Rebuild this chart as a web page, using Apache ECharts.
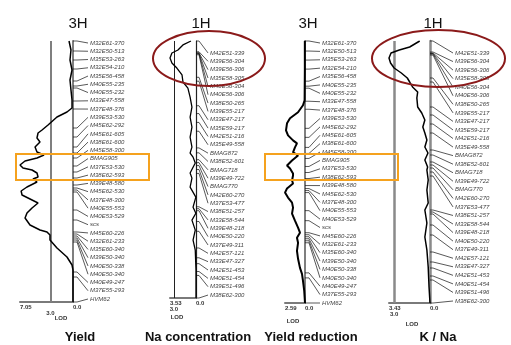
<!DOCTYPE html>
<html>
<head>
<meta charset="utf-8">
<script src="https://cdn.jsdelivr.net/npm/echarts@6/dist/echarts.min.js"></script>
<style>
  html, body { margin: 0; padding: 0; background: #fff; }
  #chart { width: 511px; height: 345px; }
</style>
</head>
<body>
<div id="chart"></div>
<script>
// marker names and map positions (cM)
const markers3H = ['M32E61-370', 'M32E50-513', 'M35E53-263', 'M32E54-210', 'M35E56-458', 'M40E55-235', 'M40E55-232',
  'M33E47-558', 'M37E48-376', 'M39E53-530', 'M45E62-292', 'M45E61-605', 'M38E61-600', 'M45E58-300', 'BMAG905',
  'M37E53-530', 'M38E62-593', 'M39E48-580', 'M45E62-530', 'M37E48-300', 'M40E55-553', 'M40E53-529', 'scs',
  'M45E60-226', 'M32E61-233', 'M35E60-340', 'M39E50-340', 'M40E50-338', 'M40E50-340', 'M40E49-247', 'M37E55-293', 'HVM62']
const pos3H = [0, 5, 9.5, 14, 20, 22.5, 23.5, 30, 34, 43.5, 48, 53, 56, 58.5, 62.5, 65.5, 68.5, 72, 73.5, 74.5, 75.5,
  84.5, 89.5, 95.5, 96.5, 97.5, 98.5, 99.5, 100.5, 115.5, 118, 130.5]

const markers1H = ['M42E51-339', 'M39E56-304', 'M39E56-306', 'M35E58-305', 'M40E56-304', 'M40E56-306', 'M38E50-265',
  'M39E55-217', 'M33E47-217', 'M35E59-217', 'M42E51-216', 'M35E49-558', 'BMAG872', 'M38E52-601', 'BMAG718',
  'M39E49-722', 'BMAG770', 'M42E60-270', 'M37E53-477', 'M38E51-257', 'M33E58-544', 'M39E48-218', 'M40E50-220',
  'M37E49-311', 'M42E57-121', 'M33E47-327', 'M42E51-453', 'M40E51-454', 'M39E51-496', 'M38E62-300']
const pos1H = [0, 5.5, 6, 6.25, 6.5, 7, 18.5, 20.5, 33, 37, 41.5, 46, 54.5, 57, 60.5, 62, 63.5, 65.5, 67.5,
  84.5, 85.5, 86.5, 92, 97, 105.5, 110.5, 113.5, 117.5, 119.5, 131]

const len3H = 130.5
const len1H = 131

// LOD profiles: position (cM) and LOD
const yieldCM = [0, 4.5, 9.5, 14.5, 19.5, 24.5, 29.5, 33.5, 35.5, 38, 42, 44.5, 46, 48.5, 50.5, 53, 55.5, 57, 58.5, 60,
  62, 63.5, 64.5, 66, 68, 69, 70.5, 73, 75, 77, 78.5, 81, 83.5, 86, 88.5, 92, 94.5, 95.5, 97, 99.5, 103.5, 108, 112, 114.5, 130.5]
const yieldLOD = [0.53, 0.27, 0.4, 0.13, 0.4, 0.27, 0.13, 0.13, 0.8, 2.13, 3.32, 4.12, 4.65, 4.79, 4.39, 5.05, 4.79, 3.86,
  4.79, 6.38, 7.05, 6.65, 5.45, 4.79, 4.65, 5.32, 4.79, 6.12, 6.9, 6.78, 5.98, 4.65, 5.45, 6.12, 6.38, 5.72, 4.39, 3.46,
  3.06, 3.06, 2.13, 0.8, 0.13, 0, 0]

const naCM = [0, 2, 4.6, 6.1, 8.7, 11.2, 13.8, 17.3, 20.9, 24, 28.6, 33.7, 38.8, 43.9, 49, 54.1, 57.1, 59.2, 62.2, 67.3,
  69.9, 74.5, 79.6, 84.7, 87.8, 91.3, 96.4, 101.5, 106.6, 116.8, 131]
const naLOD = [0.68, 1.77, 2.45, 3.27, 3.53, 3.27, 2.6, 1.9, 1.77, 1.1, 0.8, 0.55, 0.8, 0.55, 0.8, 0.55, 0.8, 0.4, 0.1,
  0.8, 0.55, 0.8, 0.02, 0.4, 0.02, 0.55, 0.1, 0.4, 0.1, 0, 0]

const redCM = [0, 14.5, 29.5, 32, 35.5, 38.5, 41, 44.5, 47, 49.5, 51, 53, 55.5, 57, 59.5, 62, 63.5, 66, 67, 69.5, 71,
  73.5, 75.5, 78, 80.5, 83, 86, 89.5, 93, 95.5, 98, 100.5, 104.5, 108.5, 113, 116, 119.5, 124.5, 130.5]
const redLOD = [0.02, 0.02, 0.05, 0.26, 0.9, 1.94, 2.33, 2.46, 2.2, 1.55, 1.04, 1.3, 1.55, 0.9, 1.68, 2.33, 1.94, 1.55,
  1.55, 1.68, 1.55, 2.33, 2.59, 2.2, 1.68, 1.55, 1.68, 1.3, 0.9, 0.65, 1.04, 0.9, 1.04, 0.9, 0.65, 0.39, 0.26, 0.1, 0]

const knaCM = [0, 3, 4.5, 6, 8.5, 11, 13.5, 16, 18.5, 20.5, 23, 25.5, 28.5, 33, 36, 39.5, 43, 46, 49.5, 53, 56, 59.5,
  63, 64.5, 69.5, 74.5, 81, 84.5, 91, 98, 104.5, 113, 123, 131]
const knaLOD = [0.86, 1.7, 2.57, 3.26, 3.43, 3.3, 3.0, 2.4, 1.9, 1.7, 1.46, 1.03, 1.1, 1.03, 0.69, 0.43, 0.6, 0.43, 0.26,
  0.43, 0.17, 0.43, 0.2, 0.26, 0.15, 0.26, 0.15, 0.43, 0.26, 0.43, 0.26, 0.15, 0.08, 0]

const chromNames = ['3H', '1H', '3H', '1H']
const traitNames = ['Yield', 'Na concentration', 'Yield reduction', 'K / Na']
const lodMax = [7.05, 3.53, 2.59, 3.43]
const threshold = 3.0

// layout of each panel (pixels), label span along the chromosome (cM)
const panels = [
  { grid: [20, 41, 53, 261], len: len3H, names: markers3H, pos: pos3H, cm: yieldCM, lod: yieldLOD,
    lab: [1, 129], gap: 17, tick: 4, chrom: ['#7f7f7f', 2], thr: ['#7f7f7f', 2], curve: 1.5, lodText: [61, 318], title: [73, 75] },
  { grid: [170, 41, 26, 257], len: len1H, names: markers1H, pos: pos1H, cm: naCM, lod: naLOD,
    lab: [6.1, 129.5], gap: 14, tick: 3, chrom: ['#222', 1.2], thr: ['#222', 1], curve: 1.3, lodText: [177, 317], title: [196, 193] },
  { grid: [285, 41, 20, 262], len: len3H, names: markers3H, pos: pos3H, cm: redCM, lod: redLOD,
    lab: [1, 130.5], gap: 17, tick: 4, chrom: ['#7f7f7f', 2], thr: null, curve: 2, lodText: [293, 321], title: [303, 306] },
  { grid: [389, 41, 41, 262], len: len1H, names: markers1H, pos: pos1H, cm: knaCM, lod: knaLOD,
    lab: [6, 130], gap: 25, tick: 3, chrom: ['#8a8a8a', 2.5], thr: ['#8a8a8a', 2.5], curve: 1.5, lodText: [412, 324], title: [428, 433] },
]

const FONT = 'Liberation Sans, Arial, sans-serif'
const fmt = v => (v === 0 || v === 3 ? v.toFixed(1) : String(v))

const grids = []
const xAxes = []
const yAxes = []
const series = []
const titles = []
const graphics = []

panels.forEach((p, i) => {
  grids.push({ left: p.grid[0], top: p.grid[1], width: p.grid[2], height: p.grid[3], outerBoundsMode: 'none' })

  // LOD axis (0 at the chromosome, growing to the left)
  xAxes.push({
    gridIndex: i, type: 'value', min: 0, max: lodMax[i], inverse: true,
    axisLine: { onZero: false, lineStyle: { color: '#7a7a7a', width: 2 } },
    axisTick: { show: false }, splitLine: { show: false },
    axisLabel: { customValues: [lodMax[i], 0], formatter: fmt, align: 'left', margin: 2,
      fontSize: 6, fontWeight: 'bold', color: '#333', fontFamily: FONT },
  })
  // second row with the threshold value
  xAxes.push({
    gridIndex: i, type: 'value', min: 0, max: lodMax[i], inverse: true, position: 'bottom', offset: 8,
    axisLine: { show: false }, axisTick: { show: false }, splitLine: { show: false },
    axisLabel: { show: lodMax[i] >= threshold, customValues: [threshold], formatter: fmt, margin: 0,
      fontSize: 6, fontWeight: 'bold', color: '#333', fontFamily: FONT },
  })
  // chromosome
  yAxes.push({
    gridIndex: i, type: 'value', min: 0, max: p.len, inverse: true, position: 'right',
    axisLine: { show: true, onZero: false, lineStyle: { color: p.chrom[0], width: p.chrom[1] } },
    axisTick: { show: false }, axisLabel: { show: false }, splitLine: { show: false },
  })

  series.push({
    type: 'custom', xAxisIndex: i * 2, yAxisIndex: i, silent: true, clip: false,
    data: p.pos.map((c, k) => [0, c, p.lab[0] + k * (p.lab[1] - p.lab[0]) / (p.pos.length - 1)]),
    encode: { x: 0, y: 1 },
    renderItem: (params, api) => {
      const c = api.coord([0, api.value(1)])
      const l = api.coord([0, api.value(2)])
      const lx = c[0] + p.gap
      return {
        type: 'group',
        children: [
          { type: 'polyline', shape: { points: [[c[0], c[1]], [c[0] + p.tick, c[1]], [lx - 2, l[1]]] },
            style: { stroke: '#111', lineWidth: 0.7, fill: null } },
          { type: 'text', x: lx, y: l[1],
            style: { text: p.names[params.dataIndex], fontSize: 6, fontStyle: 'italic', fontFamily: FONT,
              fill: '#444', verticalAlign: 'middle', align: 'left' } },
        ],
      }
    },
  })

  series.push({
    type: 'line', xAxisIndex: i * 2, yAxisIndex: i, silent: true, symbol: 'none', z: 5,
    data: p.cm.map((c, k) => [p.lod[k], c]),
    lineStyle: { color: '#000', width: p.curve },
    markLine: p.thr ? {
      silent: true, symbol: 'none', label: { show: false },
      lineStyle: { color: p.thr[0], width: p.thr[1], type: 'solid' },
      data: [{ xAxis: threshold }],
    } : undefined,
  })

  titles.push({ text: chromNames[i], left: p.title[0], top: 11, textAlign: 'center',
    textStyle: { fontSize: 15, fontWeight: 'normal', color: '#111', fontFamily: FONT } })
  titles.push({ text: traitNames[i], left: p.title[1], top: 326, textAlign: 'center',
    textStyle: { fontSize: 13, fontWeight: 'bold', color: '#111', fontFamily: FONT } })

  graphics.push({ type: 'text', x: p.lodText[0], y: p.lodText[1],
    style: { text: 'LOD', fontSize: 6, fontWeight: 'bold', fill: '#333', fontFamily: FONT, align: 'center', verticalAlign: 'middle' } })
})

// highlight boxes
const boxStyle = { stroke: '#f5a21e', lineWidth: 2, fill: null }
const ringStyle = { stroke: '#8b1a1a', lineWidth: 2, fill: null }
graphics.push(
  { type: 'rect', shape: { x: 16, y: 154, width: 133, height: 26 }, style: boxStyle, z: 100 },
  { type: 'rect', shape: { x: 265, y: 154, width: 133, height: 26 }, style: boxStyle, z: 100 },
  { type: 'ellipse', shape: { cx: 209, cy: 58.5, rx: 56, ry: 27.5 }, style: ringStyle, z: 100 },
  { type: 'ellipse', shape: { cx: 438.5, cy: 58.5, rx: 66.5, ry: 28.5 }, style: ringStyle, z: 100 },
)

const chart = echarts.init(document.getElementById('chart'), null, { renderer: 'canvas' })
chart.setOption({
  backgroundColor: '#fff',
  animation: false,
  title: titles,
  grid: grids,
  xAxis: xAxes,
  yAxis: yAxes,
  series,
  graphic: graphics,
})
</script>
</body>
</html>
